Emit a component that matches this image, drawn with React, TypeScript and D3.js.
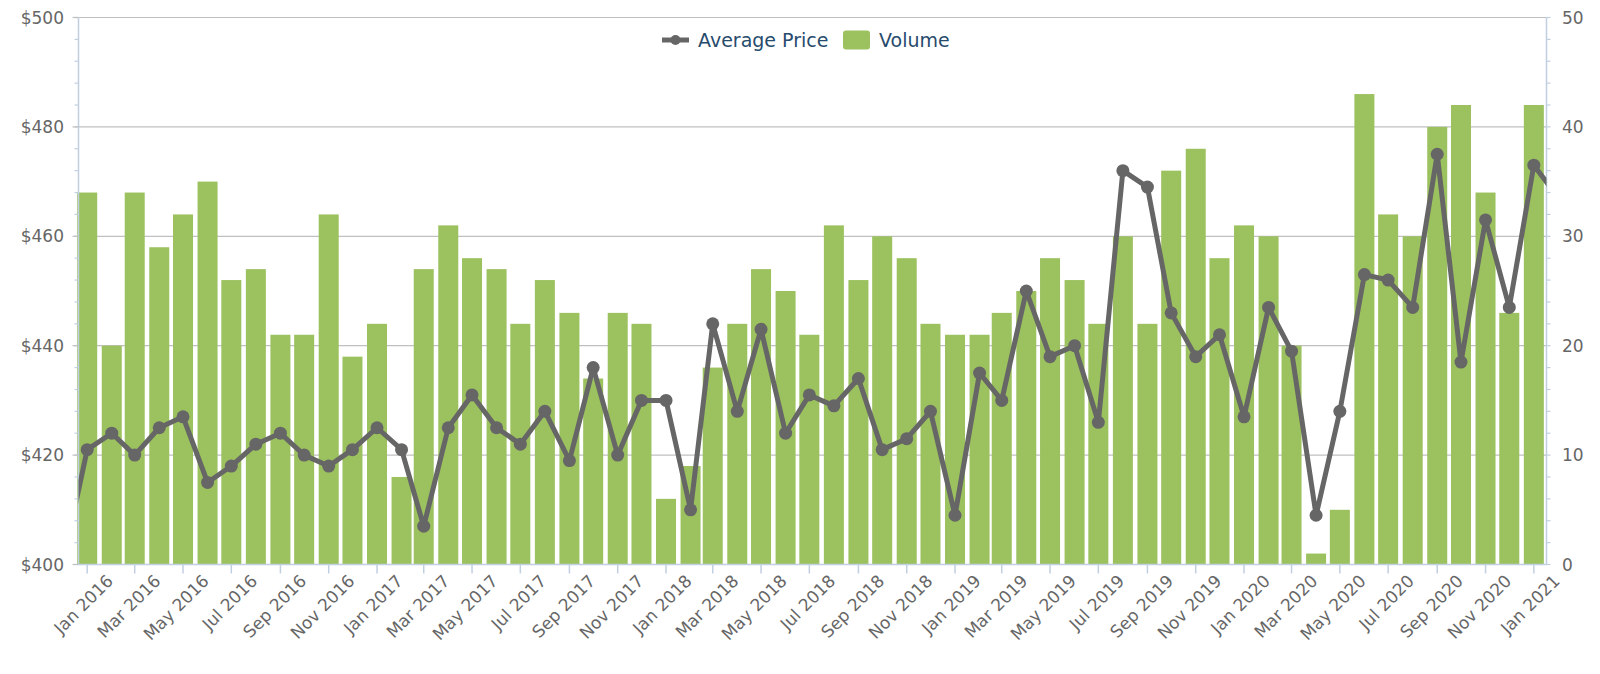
import React from 'react';
import * as d3 from 'd3';

// monthly categories (bars + line)
const months = [
  '2016-01', '2016-02', '2016-03', '2016-04', '2016-05', '2016-06', '2016-07', '2016-08', '2016-09', '2016-10', '2016-11', '2016-12',
  '2017-01', '2017-02', '2017-03', '2017-04', '2017-05', '2017-06', '2017-07', '2017-08', '2017-09', '2017-10', '2017-11', '2017-12',
  '2018-01', '2018-02', '2018-03', '2018-04', '2018-05', '2018-06', '2018-07', '2018-08', '2018-09', '2018-10', '2018-11', '2018-12',
  '2019-01', '2019-02', '2019-03', '2019-04', '2019-05', '2019-06', '2019-07', '2019-08', '2019-09', '2019-10', '2019-11', '2019-12',
  '2020-01', '2020-02', '2020-03', '2020-04', '2020-05', '2020-06', '2020-07', '2020-08', '2020-09', '2020-10', '2020-11', '2020-12',
  '2021-01',
];

const volume = [
  34, 20, 34, 29, 32, 35, 26, 27, 21, 21, 32, 19,
  22, 8, 27, 31, 28, 27, 22, 26, 23, 17, 23, 22,
  6, 9, 18, 22, 27, 25, 21, 31, 26, 30, 28, 22,
  21, 21, 23, 25, 28, 26, 22, 30, 22, 36, 38, 28,
  31, 30, 20, 1, 5, 43, 32, 30, 40, 42, 34, 23,
  42,
];

// the price line runs one month past each end and is clipped by the plot
const priceMonths = ['2015-12', ...months, '2021-02'];
const price = [
  400,
  421, 424, 420, 425, 427, 415, 418, 422, 424, 420, 418, 421,
  425, 421, 407, 425, 431, 425, 422, 428, 419, 436, 420, 430,
  430, 410, 444, 428, 443, 424, 431, 429, 434, 421, 423, 428,
  409, 435, 430, 450, 438, 440, 426, 472, 469, 446, 438, 442,
  427, 447, 439, 409, 428, 453, 452, 447, 475, 437, 463, 447,
  473,
  467,
];

const priceTicks = [400, 420, 440, 460, 480, 500];
const volumeTicks = [0, 10, 20, 30, 40, 50];

const W = 1600;
const H = 674;
const m = { left: 78.5, right: 1546.5, top: 17.5, bottom: 564.5 };
const FONT = '"DejaVu Sans", Verdana, sans-serif';
const GREEN = '#9cc15f';
const LINE = '#666666';
const AXIS = '#c0d0e0';

const parse = (s: string) => d3.utcParse('%Y-%m')(s) as Date;

export default function App() {
  const dates = months.map(parse);
  const x = d3
    .scaleUtc()
    .domain([d3.utcDay.offset(dates[0], -11), d3.utcDay.offset(dates[dates.length - 1], 16)])
    .range([m.left, m.right]);
  const yP = d3.scaleLinear().domain([400, 500]).range([m.bottom, m.top]);
  const yV = d3.scaleLinear().domain([0, 50]).range([m.bottom, m.top]);
  const barW = 20;

  const pricePts = priceMonths.map((s, i) => ({ d: parse(s), v: price[i] }));
  const line = d3
    .line<{ d: Date; v: number }>()
    .x(p => x(p.d))
    .y(p => yP(p.v));

  const minorP = d3.range(400, 501, 4);
  const minorV = d3.range(0, 51, 2);
  const labelDates = dates.filter((_, i) => i % 2 === 0);
  const fmt = d3.utcFormat('%b %Y');

  return (
    <div style={{ position: 'absolute', left: 0, top: 0 }}>
      <svg width={W} height={H} style={{ display: 'block', background: '#fff' }} fontFamily={FONT}>
        <defs>
          <clipPath id="plot">
            <rect x={m.left} y={m.top - 8} width={m.right - m.left} height={m.bottom - m.top + 8} />
          </clipPath>
        </defs>

        {/* grid */}
        {priceTicks.map(t => (
          <line key={t} x1={m.left} x2={m.right} y1={yP(t)} y2={yP(t)} stroke="#c0c0c0" strokeWidth={1.2} />
        ))}

        {/* bars */}
        {dates.map((d, i) => (
          <rect
            key={i}
            x={x(d) - barW / 2}
            y={yV(volume[i])}
            width={barW}
            height={m.bottom - yV(volume[i])}
            fill={GREEN}
          />
        ))}

        {/* axes lines */}
        <line x1={m.left} x2={m.left} y1={m.top} y2={m.bottom} stroke={AXIS} strokeWidth={1.5} />
        <line x1={m.right} x2={m.right} y1={m.top} y2={m.bottom} stroke={AXIS} strokeWidth={1.5} />
        <line x1={m.left} x2={m.right} y1={m.bottom} y2={m.bottom} stroke={AXIS} strokeWidth={1.5} />

        {minorP.map(t => (
          <line key={'mp' + t} x1={m.left - 4} x2={m.left} y1={yP(t)} y2={yP(t)} stroke={AXIS} strokeWidth={1.2} />
        ))}
        {minorV.map(t => (
          <line key={'mv' + t} x1={m.right} x2={m.right + 4} y1={yV(t)} y2={yV(t)} stroke={AXIS} strokeWidth={1.2} />
        ))}
        {priceTicks.map(t => (
          <line key={'tp' + t} x1={m.left - 6} x2={m.left} y1={yP(t)} y2={yP(t)} stroke="#c0c0c0" strokeWidth={1.2} />
        ))}
        {labelDates.map((d, i) => (
          <line key={'tx' + i} x1={x(d)} x2={x(d)} y1={m.bottom} y2={m.bottom + 9} stroke={AXIS} strokeWidth={1.5} />
        ))}

        {/* price line */}
        <g clipPath="url(#plot)">
          <path d={line(pricePts) || ''} fill="none" stroke={LINE} strokeWidth={5} strokeLinejoin="round" />
          {pricePts.map((p, i) => (
            <circle key={i} cx={x(p.d)} cy={yP(p.v)} r={6.5} fill={LINE} />
          ))}
        </g>

        {/* axis labels */}
        {priceTicks.map(t => (
          <text key={'lp' + t} x={64} y={yP(t) + 6} textAnchor="end" fontSize={17} fill="#666">
            {'$' + t}
          </text>
        ))}
        {volumeTicks.map(t => (
          <text key={'lv' + t} x={1562} y={yV(t) + 6} textAnchor="start" fontSize={17} fill="#666">
            {t}
          </text>
        ))}
        {labelDates.map((d, i) => (
          <text
            key={'lx' + i}
            transform={`translate(${x(d) + 27},${m.bottom + 17.5}) rotate(-45)`}
            textAnchor="end"
            fontSize={17}
            fill="#666"
          >
            {fmt(d)}
          </text>
        ))}

        {/* legend */}
        <g>
          <line x1={662} x2={689} y1={40} y2={40} stroke={LINE} strokeWidth={5} />
          <circle cx={675.5} cy={40} r={5} fill={LINE} />
          <text x={698} y={46.5} fontSize={19} fill="#274b6d">
            Average Price
          </text>
          <rect x={843} y={30.5} width={27} height={19} rx={3} fill={GREEN} />
          <text x={879} y={46.5} fontSize={19} fill="#274b6d">
            Volume
          </text>
        </g>
      </svg>
    </div>
  );
}
